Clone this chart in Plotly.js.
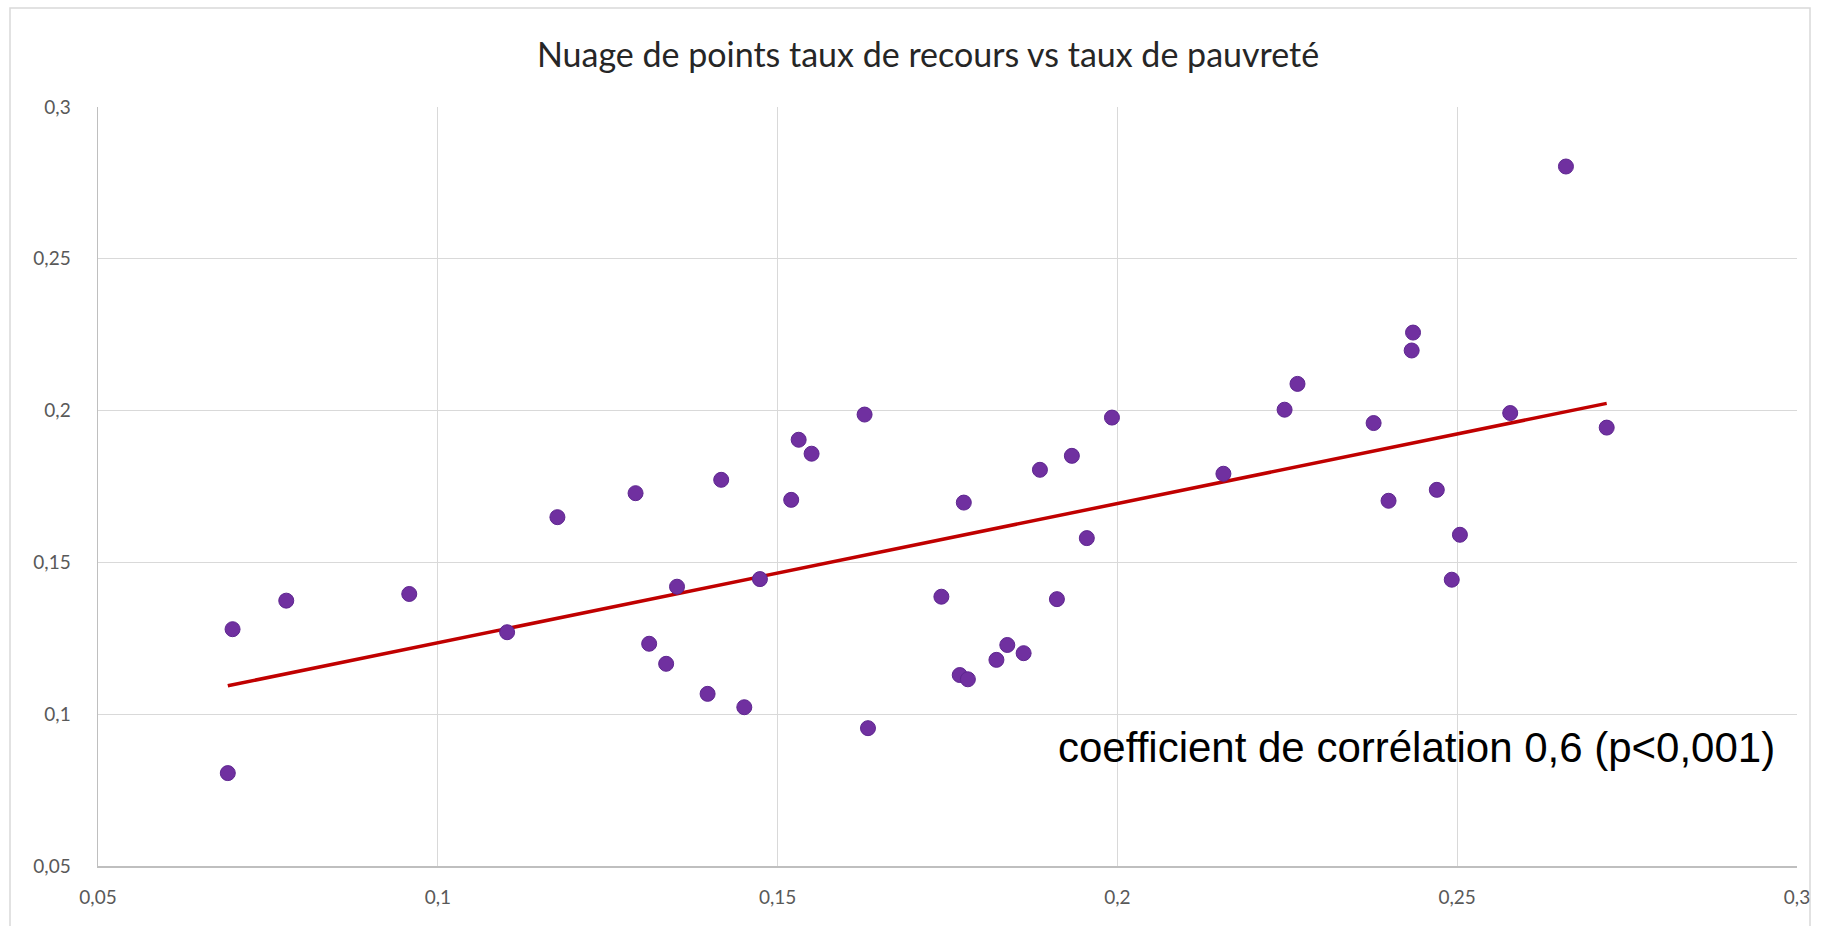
<!DOCTYPE html>
<html>
<head>
<meta charset="utf-8">
<script src="https://cdn.plot.ly/plotly-3.0.1.min.js"></script>
<style>html,body{margin:0;padding:0;background:#fff;}#chart{width:1845px;height:926px;}</style>
</head>
<body>
<div id="chart"></div>
<script>
// Taux de pauvreté (x) et taux de recours (y)
const tauxPauvrete = [
  0.0698, 0.0777, 0.0958, 0.1102, 0.1176, 0.0691,
  0.1291, 0.1417, 0.1628, 0.1531, 0.1550, 0.1520, 0.1774, 0.1352, 0.1474, 0.1741,
  0.1311, 0.1336, 0.1397, 0.1451, 0.1768, 0.1780, 0.1633,
  0.1886, 0.1933, 0.1992, 0.1955, 0.1911, 0.1838, 0.1822, 0.1862, 0.2156, 0.2246, 0.2265,
  0.2660, 0.2435, 0.2433, 0.2377, 0.2578, 0.2720, 0.2399, 0.2470, 0.2504, 0.2492
];
const tauxRecours = [
  0.1280, 0.1374, 0.1396, 0.1270, 0.1649, 0.0806,
  0.1728, 0.1772, 0.1987, 0.1904, 0.1858, 0.1706, 0.1697, 0.1420, 0.1445, 0.1387,
  0.1232, 0.1166, 0.1067, 0.1023, 0.1129, 0.1115, 0.0954,
  0.1805, 0.1851, 0.1977, 0.1580, 0.1379, 0.1228, 0.1179, 0.1201, 0.1792, 0.2003, 0.2088,
  0.2804, 0.2257, 0.2198, 0.1959, 0.1992, 0.1944, 0.1703, 0.1739, 0.1591, 0.1443
];
const tickValues = [0.05, 0.1, 0.15, 0.2, 0.25, 0.3];
const tickLabels = ["0,05", "0,1", "0,15", "0,2", "0,25", "0,3"];
const chartTitle = "Nuage de points taux de recours vs taux de pauvreté";
const noteText = "coefficient de corrélation 0,6 (p<0,001)";

// Droite de tendance linéaire (moindres carrés), comme dans Excel
const n = tauxPauvrete.length;
const mx = tauxPauvrete.reduce((a, b) => a + b, 0) / n;
const my = tauxRecours.reduce((a, b) => a + b, 0) / n;
let sxy = 0, sxx = 0;
for (let i = 0; i < n; i++) {
  sxy += (tauxPauvrete[i] - mx) * (tauxRecours[i] - my);
  sxx += (tauxPauvrete[i] - mx) ** 2;
}
const slope = sxy / sxx;
const intercept = my - slope * mx;
const xMin = Math.min(...tauxPauvrete), xMax = Math.max(...tauxPauvrete);
const trendX = [xMin, xMax];
const trendY = trendX.map(v => intercept + slope * v);

const traces = [
  {
    x: trendX, y: trendY, type: 'scatter', mode: 'lines',
    line: {color: '#C00000', width: 3.5}, hoverinfo: 'skip', showlegend: false
  },
  {
    x: tauxPauvrete, y: tauxRecours, type: 'scatter', mode: 'markers',
    marker: {color: '#7030A0', size: 15, line: {color: '#5E2690', width: 1}},
    showlegend: false
  }
];

const tickFont = {family: 'Lato, "Open Sans", sans-serif', size: 19, color: '#595959'};
const W = 1845, H = 926;
const mL = 98, mR = 48, mT = 107, mB = 60;
const pw = W - mL - mR, ph = H - mT - mB;
const px = v => (v - mL) / pw;
const py = v => (H - mB - v) / ph;

const layout = {
  width: W, height: H,
  margin: {l: mL, r: mR, t: mT, b: mB, pad: 0},
  paper_bgcolor: '#ffffff', plot_bgcolor: '#ffffff',
  showlegend: false,
  title: {
    text: chartTitle,
    font: {family: 'Lato, "Open Sans", sans-serif', size: 34, color: '#262626'},
    x: 928 / W, xanchor: 'center', xref: 'container',
    y: 1 - 55 / H, yanchor: 'middle', yref: 'container'
  },
  xaxis: {
    range: [0.05, 0.3], tickmode: 'array', tickvals: tickValues, ticktext: tickLabels,
    showgrid: true, gridcolor: '#D9D9D9', gridwidth: 1,
    zeroline: false, showline: true, linecolor: '#BFBFBF', linewidth: 1.5,
    ticks: '', ticklabelstandoff: 14, tickfont: tickFont, fixedrange: true
  },
  yaxis: {
    range: [0.05, 0.3], tickmode: 'array', tickvals: tickValues, ticktext: tickLabels,
    showgrid: true, gridcolor: '#D9D9D9', gridwidth: 1,
    zeroline: false, showline: true, linecolor: '#BFBFBF', linewidth: 1.5,
    ticks: '', ticklabelstandoff: 22, tickfont: tickFont, fixedrange: true
  },
  shapes: [
    {
      type: 'rect', xref: 'paper', yref: 'paper',
      x0: px(10), x1: px(1810), y0: py(940), y1: py(8),
      line: {color: '#D9D9D9', width: 1.5}, fillcolor: 'rgba(0,0,0,0)', layer: 'below'
    }
  ],
  annotations: [
    {
      text: noteText, xref: 'paper', yref: 'paper',
      x: px(1777), y: py(747), xanchor: 'right', yanchor: 'middle',
      showarrow: false,
      font: {family: '"Liberation Sans", Arial, sans-serif', size: 42, color: '#000000'}
    }
  ]
};

Plotly.newPlot('chart', traces, layout, {displayModeBar: false, staticPlot: true});
</script>
</body>
</html>
